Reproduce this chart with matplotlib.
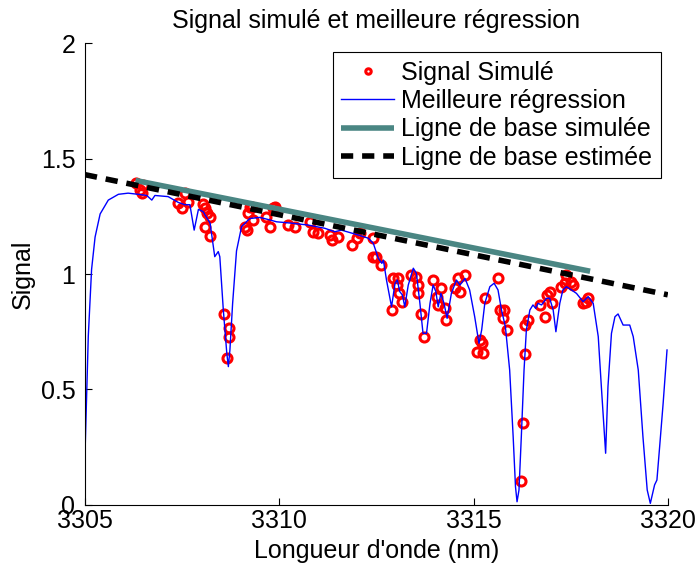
import numpy as np
import matplotlib
matplotlib.use("Agg")
import matplotlib.pyplot as plt

plt.rcParams['font.family'] = ['Liberation Sans', 'DejaVu Sans']

# best-fit curve
fit_x = [3305.00, 3305.085, 3305.17, 3305.26, 3305.39, 3305.60, 3305.86, 3306.11,
         3306.37, 3306.59, 3306.72, 3306.80, 3307.14, 3307.40, 3307.57, 3307.70,
         3307.81, 3307.92, 3308.04, 3308.22, 3308.34, 3308.43, 3308.47, 3308.56,
         3308.65, 3308.69, 3308.73, 3308.80, 3308.90, 3309.03, 3309.24, 3309.50,
         3309.76, 3309.93, 3310.32, 3310.74, 3311.17, 3311.43, 3311.60, 3312.03,
         3312.29, 3312.42, 3312.55, 3312.64, 3312.68, 3312.76, 3312.89, 3312.98,
         3313.04, 3313.10, 3313.17, 3313.23, 3313.32, 3313.45, 3313.53, 3313.62,
         3313.70, 3313.79, 3313.88, 3313.96, 3314.03, 3314.09, 3314.16, 3314.24,
         3314.32, 3314.43, 3314.56, 3314.65, 3314.78, 3314.90, 3315.03, 3315.14,
         3315.21, 3315.29, 3315.42, 3315.53, 3315.63, 3315.72, 3315.82, 3315.93,
         3316.02, 3316.08, 3316.12, 3316.17, 3316.23, 3316.30, 3316.36, 3316.45,
         3316.53, 3316.60, 3316.66, 3316.75, 3316.88, 3316.96, 3317.05, 3317.12,
         3317.22, 3317.30, 3317.39, 3317.52, 3317.65, 3317.82, 3317.95, 3318.08,
         3318.21, 3318.29, 3318.40, 3318.46, 3318.55, 3318.64, 3318.72, 3318.85,
         3319.02, 3319.11, 3319.24, 3319.36, 3319.47, 3319.55, 3319.66, 3319.72,
         3319.79, 3319.88, 3319.98]
fit_y = [0.216, 0.73, 1.02, 1.16, 1.26, 1.32, 1.345, 1.35,
         1.345, 1.34, 1.32, 1.34, 1.335, 1.31, 1.30, 1.30,
         1.19, 1.28, 1.27, 1.22, 1.075, 1.097, 1.075, 0.845,
         0.657, 0.599, 0.671, 0.873, 1.10, 1.205, 1.24, 1.245,
         1.234, 1.226, 1.22, 1.212, 1.198, 1.183, 1.19, 1.169,
         1.155, 1.133, 1.068, 1.046, 1.06, 0.974, 0.858, 0.96,
         0.974, 0.924, 0.909, 0.858, 0.952, 1.025, 1.003, 0.873,
         0.743, 0.743, 0.873, 0.952, 0.924, 0.858, 0.916, 0.873,
         0.808, 0.916, 0.974, 0.952, 0.981, 0.931, 0.815, 0.70,
         0.758, 0.873, 0.945, 0.96, 0.931, 0.844, 0.772, 0.584,
         0.296, 0.079, 0.014, 0.065, 0.296, 0.584, 0.758, 0.844,
         0.866, 0.851, 0.873, 0.866, 0.895, 0.895, 0.844, 0.75,
         0.873, 0.931, 0.945, 0.931, 0.916, 0.88, 0.902, 0.873,
         0.729, 0.512, 0.224, 0.512, 0.743, 0.815, 0.827, 0.779,
         0.779, 0.729, 0.584, 0.296, 0.065, 0.007, 0.087, 0.108,
         0.252, 0.44, 0.671]

# simulated signal samples
sig_x = [3306.31, 3306.50, 3306.41, 3306.46, 3307.40, 3307.49, 3307.57, 3307.66,
         3308.04, 3308.09, 3308.13, 3308.22, 3308.09, 3308.22, 3308.58, 3308.71,
         3308.71, 3308.65, 3309.24, 3309.20, 3309.33, 3309.12, 3309.16, 3309.29,
         3309.67, 3309.84, 3309.76, 3309.89, 3310.23, 3310.40, 3310.79, 3310.87,
         3311.00, 3311.30, 3311.35, 3311.52, 3311.86, 3311.99, 3312.07, 3312.42,
         3312.42, 3312.49, 3312.63, 3312.89, 3312.93, 3313.06, 3313.02, 3313.09,
         3313.17, 3313.40, 3313.53, 3313.57, 3313.57, 3313.66, 3313.73, 3313.96,
         3314.15, 3314.05, 3314.09, 3314.26, 3314.30, 3314.52, 3314.60, 3314.78,
         3314.65, 3315.16, 3315.08, 3315.25, 3315.21, 3315.29, 3315.63, 3315.68,
         3315.79, 3315.76, 3315.85, 3316.21, 3316.28, 3316.32, 3316.32, 3316.40,
         3316.71, 3316.88, 3316.96, 3317.01, 3316.83, 3317.39, 3317.26, 3317.35,
         3317.52, 3317.56, 3317.82, 3317.95, 3317.90]
sig_y = [1.395, 1.385, 1.364, 1.349, 1.306, 1.284, 1.349, 1.313,
         1.303, 1.284, 1.263, 1.248, 1.205, 1.163, 0.826, 0.765,
         0.729, 0.635, 1.292, 1.263, 1.234, 1.205, 1.19, 1.292,
         1.248, 1.284, 1.205, 1.292, 1.212, 1.205, 1.226, 1.183,
         1.176, 1.169, 1.147, 1.162, 1.126, 1.155, 1.176, 1.155,
         1.075, 1.075, 1.039, 0.844, 0.981, 0.981, 0.952, 0.916,
         0.88, 0.996, 0.988, 0.952, 0.916, 0.827, 0.729, 0.974,
         0.938, 0.902, 0.866, 0.851, 0.801, 0.938, 0.981, 0.996,
         0.924, 0.714, 0.664, 0.66, 0.70, 0.895, 0.981, 0.844,
         0.844, 0.808, 0.758, 0.105, 0.356, 0.654, 0.779, 0.801,
         0.866, 0.909, 0.924, 0.873, 0.815, 0.996, 0.945, 0.96,
         0.967, 0.952, 0.873, 0.895, 0.88]

base_sim_x = [3306.3, 3318.0]
base_sim_y = [1.405, 1.012]
base_est_x = [3305.0, 3320.0]
base_est_y = [1.43, 0.91]

FS = 18

fig = plt.figure(figsize=(7.0, 5.66), dpi=100)
ax = fig.add_axes([0.1214, 0.1078, 0.8326, 0.8162])

ax.plot(sig_x, sig_y, 'o', color='red', mfc='none', mec='red', ms=6.5, mew=2.2,
        label='Signal Simulé')
ax.plot(fit_x, fit_y, '-', color='#0000ff', lw=1.0, label='Meilleure régression')
ax.plot(base_sim_x, base_sim_y, '-', color='#4a8683', lw=4, solid_capstyle='butt',
        label='Ligne de base simulée')
ax.plot(base_est_x, base_est_y, '--', color='black', lw=4, dashes=(2.2, 1.6),
        label='Ligne de base estimée')

ax.set_xlim(3305, 3320)
ax.set_ylim(0, 2)
ax.set_xticks([3305, 3310, 3315, 3320])
ax.set_yticks([0, 0.5, 1, 1.5, 2])
ax.set_yticklabels(['0', '0.5', '1', '1.5', '2'])
ax.tick_params(direction='in', labelsize=FS, length=5, width=0.8)
ax.tick_params(axis='x', pad=3)
ax.tick_params(axis='y', pad=7)
ax.spines['top'].set_visible(False)
ax.spines['right'].set_visible(False)

ax.set_xlabel("Longueur d'onde (nm)", fontsize=FS, labelpad=4)
ax.set_ylabel('Signal', fontsize=FS, labelpad=4)
ax.set_title('Signal simulé et meilleure régression', fontsize=FS, pad=11)

leg = ax.legend(loc='upper right', bbox_to_anchor=(0.9885, 0.9805), fontsize=FS,
                fancybox=False, edgecolor='black', framealpha=1, handlelength=2.1,
                borderpad=0.35, labelspacing=0.17, handletextpad=0.3,
                borderaxespad=0, markerscale=0.6)
leg.get_frame().set_linewidth(0.8)

plt.savefig('out.png', dpi=100)
